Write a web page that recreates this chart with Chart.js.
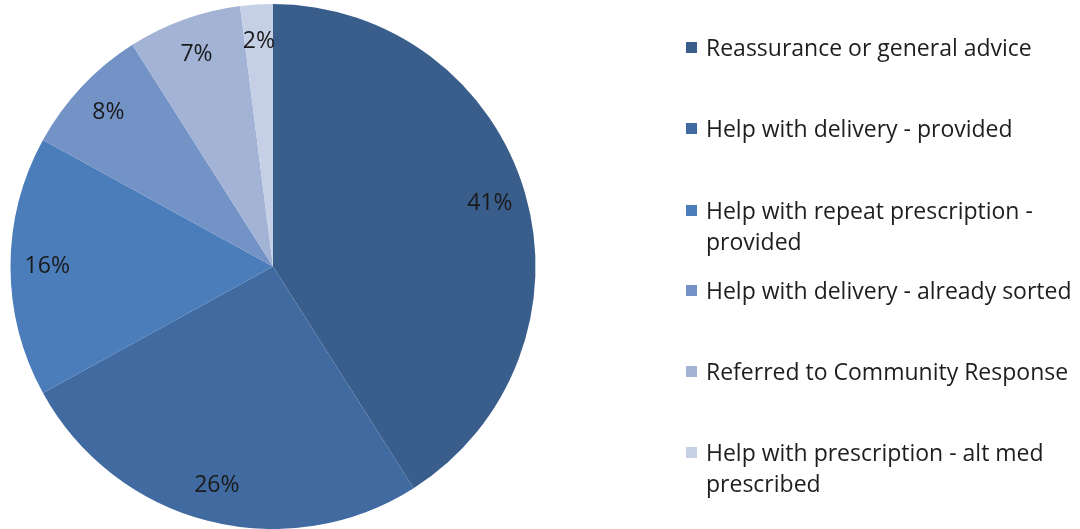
<!DOCTYPE html>
<html>
<head>
<meta charset="utf-8">
<script src="https://cdn.jsdelivr.net/npm/chart.js@4/dist/chart.umd.min.js"></script>
<style>
  html, body { margin: 0; padding: 0; background: #ffffff; }
  #wrap { position: relative; width: 1080px; height: 529px; overflow: hidden; }
  #c { position: absolute; left: 0; top: 0; }
  #legend { position: absolute; left: 686px; top: 0; font-family: "Open Sans", Lato, sans-serif; font-size: 23px; color: #1e1e1e; }
  .item { position: absolute; left: 0; white-space: nowrap; line-height: 31px; }
  .sw { position: absolute; left: 0; top: 10px; width: 11px; height: 11px; }
  .txt { position: absolute; left: 20px; top: 0; }
</style>
</head>
<body>
<div id="wrap">
  <canvas id="c" width="1080" height="529"></canvas>
  <div id="legend"></div>
</div>
<script>
const categories = [
  "Reassurance or general advice",
  "Help with delivery - provided",
  "Help with repeat prescription - provided",
  "Help with delivery - already sorted",
  "Referred to Community Response",
  "Help with prescription - alt med prescribed"
];
const legendLines = [
  ["Reassurance or general advice"],
  ["Help with delivery - provided"],
  ["Help with repeat prescription -", "provided"],
  ["Help with delivery - already sorted"],
  ["Referred to Community Response"],
  ["Help with prescription - alt med", "prescribed"]
];
const values = [41, 26, 16, 8, 7, 2];
const colors = ["#3A5E8C", "#406AA0", "#4A7DBA", "#7393C7", "#A2B3D6", "#C5D0E6"];

const legendTops = [32, 113, 195, 275, 356, 437];
const legend = document.getElementById('legend');
legendLines.forEach((lines, i) => {
  const item = document.createElement('div');
  item.className = 'item';
  item.style.top = legendTops[i] + 'px';
  const sw = document.createElement('div');
  sw.className = 'sw';
  sw.style.background = colors[i];
  const t = document.createElement('div');
  t.className = 'txt';
  t.innerHTML = lines.map(s => s.replace(/&/g,'&amp;').replace(/</g,'&lt;')).join('<br>');
  item.appendChild(sw);
  item.appendChild(t);
  legend.appendChild(item);
});

const labelPlugin = {
  id: 'pctLabels',
  afterDatasetsDraw(chart) {
    const ctx = chart.ctx;
    const meta = chart.getDatasetMeta(0);
    ctx.save();
    ctx.font = '23px "Open Sans", Lato, sans-serif';
    ctx.fillStyle = '#1a1a1a';
    ctx.textAlign = 'center';
    ctx.textBaseline = 'middle';
    meta.data.forEach((arc, i) => {
      const p = arc.getProps(['x','y','startAngle','endAngle','outerRadius'], true);
      const mid = (p.startAngle + p.endAngle) / 2;
      const r = p.outerRadius * 0.86;
      const x = p.x + Math.cos(mid) * r;
      const y = p.y + Math.sin(mid) * r;
      ctx.fillText(values[i] + '%', x, y);
    });
    ctx.restore();
  }
};

new Chart(document.getElementById('c'), {
  type: 'pie',
  data: {
    labels: categories,
    datasets: [{
      data: values,
      backgroundColor: colors,
      borderWidth: 0
    }]
  },
  options: {
    responsive: false,
    animation: false,
    layout: { padding: { left: 10, right: 544, top: 4, bottom: 0 } },
    plugins: {
      legend: { display: false },
      tooltip: { enabled: false }
    }
  },
  plugins: [labelPlugin]
});
</script>
</body>
</html>
